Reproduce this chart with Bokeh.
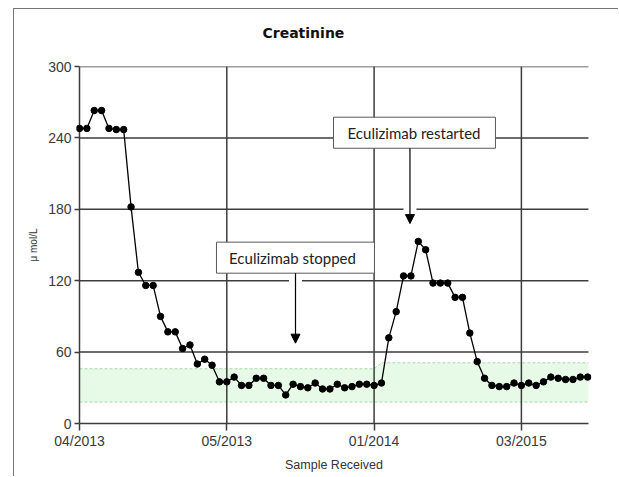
from bokeh.plotting import figure
from bokeh.models import Range1d, FixedTicker, Arrow, NormalHead, ColumnDataSource, Title
from bokeh.core.properties import value
from bokeh.embed import file_html
from bokeh.resources import INLINE

# Creatinine results, one per sample received (µmol/L)
creatinine = [248, 248, 263, 263, 248, 247, 247, 182, 127, 116,
              116, 90, 77, 77, 63, 66, 50, 54, 49, 35,
              35, 39, 32, 32, 38, 38, 32, 32, 24, 33,
              31, 30, 34, 29, 29, 33, 30, 31, 33, 33,
              32, 34, 72, 94, 124, 124, 153, 146, 118, 118,
              118, 106, 106, 76, 52, 38, 32, 31, 31, 34,
              32, 34, 32, 35, 39, 38, 37, 37, 39, 39]
sample_index = list(range(len(creatinine)))

# Date labels shown under every 20th sample
date_tick_positions = [0, 20, 40, 60]
date_tick_labels = ["04/2013", "05/2013", "01/2014", "03/2015"]

value_ticks = [0, 60, 120, 180, 240, 300]

# Reference range (normal band) breakpoints
band_x = [0, 40, 41, 69.1]
band_lower = [18, 18, 18, 18]
band_upper = [46, 46, 51, 51]

# Event annotations: text, sample position of the arrow, value it points to
event_text = ["Eculizimab stopped", "Eculizimab restarted"]
event_x = [29.33, 44.87]
event_y = [67.5, 168.0]

X_END = 69.1
GRID = "#3d3d3d"

p = figure(width=605, height=468, output_backend="svg", toolbar_location=None,
           title=None,
           x_range=Range1d(-0.407, 69.52), y_range=Range1d(0, 300),
           min_border_left=62, min_border_right=28,
           min_border_top=57, min_border_bottom=54,
           margin=(8, 0, 0, 13),
           styles={"border-left": "1px solid #777777",
                   "border-top": "1px solid #777777"})
p.outline_line_color = None
p.grid.visible = False
p.background_fill_color = "white"
p.border_fill_color = "white"

# Title, lifted above the frame by a blank spacer line
p.add_layout(Title(text=" ", text_font_size="10px", standoff=3), "above")
p.add_layout(Title(text="Creatinine", align="left", offset=186,
                   text_font="DejaVu Sans", text_font_style="bold",
                   text_font_size="14px", text_color="#111111", standoff=20),
             "above")

# Normal range band
p.varea(x=band_x, y1=band_lower, y2=band_upper, fill_color="#e7fae7")
p.line(band_x, band_lower, line_color="#a9d6a9", line_dash="3 2", line_width=1)
p.line(band_x, band_upper, line_color="#a9d6a9", line_dash="3 2", line_width=1)

# Grid lines (the one at sample 0 doubles as the value axis line)
p.segment(x0=date_tick_positions, y0=[0] * 4, x1=date_tick_positions, y1=[300] * 4,
          line_color=GRID, line_width=1.5)
hticks = value_ticks[1:]
p.segment(x0=[0] * len(hticks), y0=hticks, x1=[X_END] * len(hticks), y1=hticks,
          line_color=GRID, line_width=1.5)

# Event boxes
boxes = ColumnDataSource(dict(
    left=[18.60, 34.49], right=[40.05, 56.48],
    bottom=[126.3, 231.3], top=[152.4, 257.4],
    tx=[28.92, 45.42], ty=[139.3, 244.4],
    text=event_text))

# White halo behind the event arrows, breaking the grid lines they cross
p.segment(x0=event_x, y0=boxes.data["bottom"], x1=event_x,
          y1=[v + 8 for v in event_y], line_color="white", line_width=13)

# Series
p.line(sample_index, creatinine, line_color="black", line_width=1.3)
p.scatter(sample_index, creatinine, size=6.5, color="black")

p.quad(left="left", right="right", bottom="bottom", top="top", source=boxes,
       fill_color="white", line_color="#5a5a5a", line_width=1)
p.text(x="tx", y="ty", text="text", source=boxes, text_font=value("Lato"),
       text_font_size="15px", text_color="#222222", text_align="center",
       text_baseline="middle")

for ex, ey, eb in zip(event_x, event_y, boxes.data["bottom"]):
    p.add_layout(Arrow(end=NormalHead(size=9, fill_color="black", line_color="black"),
                       x_start=ex, y_start=eb, x_end=ex, y_end=ey,
                       line_color="black", line_width=1.2))

# Axes
p.xaxis.bounds = (0, X_END)
p.xaxis.ticker = FixedTicker(ticks=date_tick_positions)
p.xaxis.major_label_overrides = dict(zip(date_tick_positions, date_tick_labels))
p.xaxis.axis_label = "Sample Received"
p.yaxis.ticker = FixedTicker(ticks=value_ticks)
p.yaxis.axis_label = "μ mol/L"
for ax in (p.xaxis, p.yaxis):
    ax.axis_line_color = GRID
    ax.axis_line_width = 1.5
    ax.major_tick_line_color = GRID
    ax.major_tick_line_width = 1.5
    ax.minor_tick_line_color = None
    ax.major_label_text_font = "Liberation Sans"
    ax.major_label_text_font_size = "14px"
    ax.major_label_text_color = "#3a3a3a"
    ax.axis_label_text_font = "Liberation Sans"
    ax.axis_label_text_font_style = "normal"
    ax.axis_label_text_color = "#333333"
p.xaxis.major_tick_in = 0
p.xaxis.major_tick_out = 7
p.xaxis.major_label_standoff = 2
p.xaxis.axis_label_text_font_size = "12.5px"
p.xaxis.axis_label_standoff = 6
p.yaxis.axis_line_color = None
p.yaxis.major_tick_in = 3
p.yaxis.major_tick_out = 2
p.yaxis.major_label_standoff = 3
p.yaxis.axis_label_text_font_size = "10px"
p.yaxis.axis_label_standoff = 6

open("out.html", "w").write(file_html(p, INLINE))
